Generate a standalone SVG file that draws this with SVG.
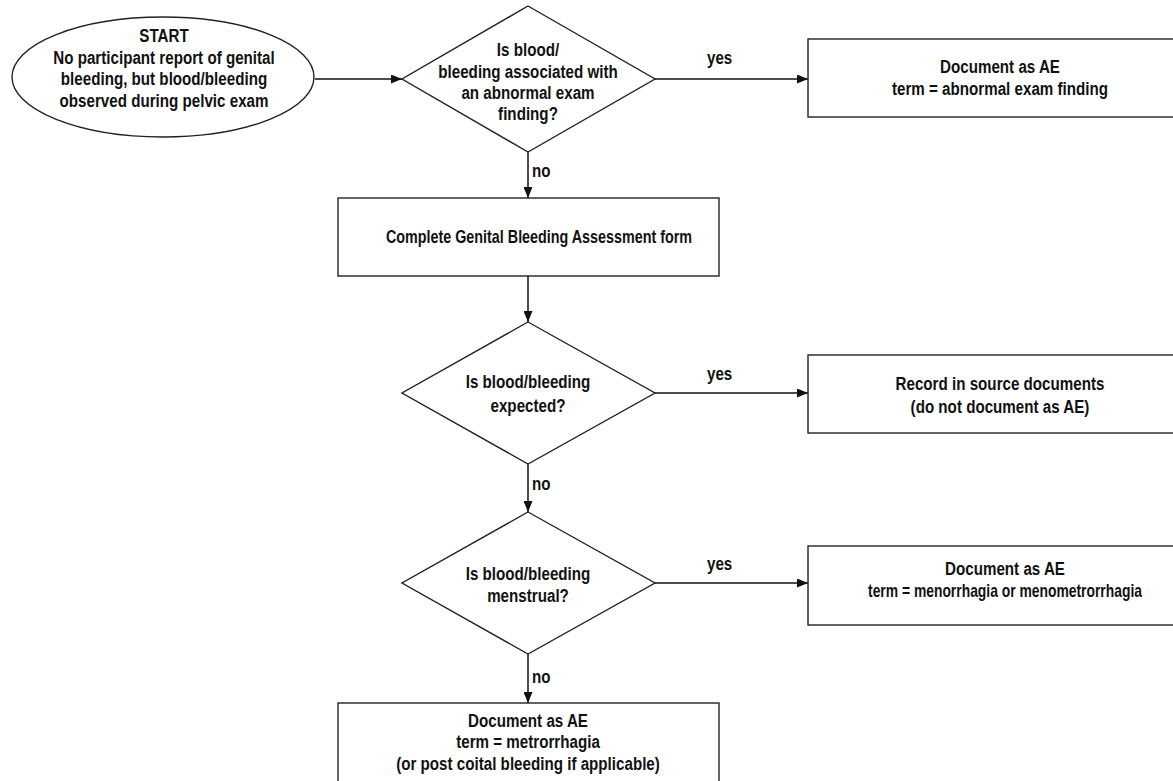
<svg xmlns="http://www.w3.org/2000/svg" width="1173" height="781" viewBox="0 0 1173 781">
<defs>
<style>
.sh{fill:#fff;stroke:#222;stroke-width:1.4}
.t{font-family:"Liberation Sans",Arial,sans-serif;font-weight:bold;font-size:18.5px;fill:#111;text-anchor:middle}
.l{font-family:"Liberation Sans",Arial,sans-serif;font-weight:bold;font-size:18.5px;fill:#111}
.c{fill:none;stroke:#111;stroke-width:1.5}
</style>
<marker id="ah" markerWidth="11" markerHeight="9" refX="11" refY="4.5" orient="auto" markerUnits="userSpaceOnUse">
<path d="M0,0 L11,4.5 L0,9 Z" fill="#111"/>
</marker>
</defs>
<rect width="1173" height="781" fill="#fff"/>
<g id="connectors">
<line class="c" x1="315" y1="79" x2="402" y2="79" marker-end="url(#ah)"/>
<line class="c" x1="655" y1="79" x2="808" y2="79" marker-end="url(#ah)"/>
<line class="c" x1="528" y1="152" x2="528" y2="198" marker-end="url(#ah)"/>
<line class="c" x1="528" y1="276" x2="528" y2="322" marker-end="url(#ah)"/>
<line class="c" x1="655" y1="393" x2="808" y2="393" marker-end="url(#ah)"/>
<line class="c" x1="528" y1="464" x2="528" y2="512" marker-end="url(#ah)"/>
<line class="c" x1="655" y1="583" x2="808" y2="583" marker-end="url(#ah)"/>
<line class="c" x1="528" y1="654" x2="528" y2="703" marker-end="url(#ah)"/>
<text class="l" transform="translate(707,64) scale(.82,1)">yes</text>
<text class="l" transform="translate(532,177) scale(.82,1)">no</text>
<text class="l" transform="translate(707,380) scale(.82,1)">yes</text>
<text class="l" transform="translate(532,490) scale(.82,1)">no</text>
<text class="l" transform="translate(707,570) scale(.82,1)">yes</text>
<text class="l" transform="translate(532,683) scale(.82,1)">no</text>
</g>
<g id="start">
<ellipse class="sh" cx="163" cy="77" rx="151" ry="60"/>
<text class="t" transform="translate(164,42) scale(.82,1)">START</text>
<text class="t" transform="translate(164,63.5) scale(.82,1)">No participant report of genital</text>
<text class="t" transform="translate(164,85) scale(.82,1)">bleeding, but blood/bleeding</text>
<text class="t" transform="translate(164,106.5) scale(.82,1)">observed during pelvic exam</text>
</g>
<g id="d1">
<polygon class="sh" points="528,6 655,79 528,152 402,79"/>
<text class="t" transform="translate(528,56) scale(.82,1)">Is blood/</text>
<text class="t" transform="translate(528,78) scale(.82,1)">bleeding associated with</text>
<text class="t" transform="translate(528,99) scale(.82,1)">an abnormal exam</text>
<text class="t" transform="translate(528,120) scale(.82,1)">finding?</text>
</g>
<g id="b1">
<rect class="sh" x="808" y="39" width="384" height="78"/>
<text class="t" transform="translate(1000,73) scale(.82,1)">Document as AE</text>
<text class="t" transform="translate(1000,95) scale(.82,1)">term = abnormal exam finding</text>
</g>
<g id="form">
<rect class="sh" x="338" y="198" width="381" height="78"/>
<text class="t" transform="translate(539,243) scale(.775,1)">Complete Genital Bleeding Assessment form</text>
</g>
<g id="d2">
<polygon class="sh" points="528,322 655,393 528,464 402,393"/>
<text class="t" transform="translate(528,388) scale(.82,1)">Is blood/bleeding</text>
<text class="t" transform="translate(528,412) scale(.82,1)">expected?</text>
</g>
<g id="b2">
<rect class="sh" x="808" y="355" width="384" height="78"/>
<text class="t" transform="translate(1000,390) scale(.82,1)">Record in source documents</text>
<text class="t" transform="translate(1000,413) scale(.82,1)">(do not document as AE)</text>
</g>
<g id="d3">
<polygon class="sh" points="528,512 655,583 528,654 402,583"/>
<text class="t" transform="translate(528,580) scale(.82,1)">Is blood/bleeding</text>
<text class="t" transform="translate(528,602) scale(.82,1)">menstrual?</text>
</g>
<g id="b3">
<rect class="sh" x="808" y="546" width="394" height="79"/>
<text class="t" transform="translate(1005,575) scale(.82,1)">Document as AE</text>
<text class="t" transform="translate(1005,597) scale(.75,1)">term = menorrhagia or menometrorrhagia</text>
</g>
<g id="b4">
<rect class="sh" x="338" y="703" width="381" height="90"/>
<text class="t" transform="translate(528,727) scale(.82,1)">Document as AE</text>
<text class="t" transform="translate(528,748) scale(.82,1)">term = metrorrhagia</text>
<text class="t" transform="translate(528,770) scale(.82,1)">(or post coital bleeding if applicable)</text>
</g>
</svg>
